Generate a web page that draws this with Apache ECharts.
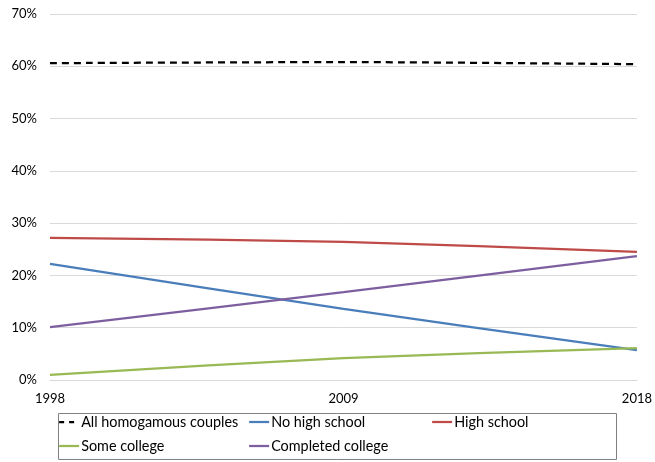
<!DOCTYPE html>
<html>
<head>
<meta charset="utf-8">
<script src="https://cdn.jsdelivr.net/npm/echarts@6/dist/echarts.min.js"></script>
<style>
  html, body { margin: 0; padding: 0; background: #fff; }
  #chart { width: 655px; height: 462px; }
</style>
</head>
<body>
<div id="chart"></div>
<script>
// Share of couples with matching education levels, by survey year
const years = ['1998', '2009', '2018'];
const allHomogamous = [60.6, 60.8, 60.4];
const noHighSchool = [22.2, 13.6, 5.7];
const highSchool = [27.2, 26.4, 24.5];
const someCollege = [1.0, 4.2, 6.1];
const completedCollege = [10.1, 16.8, 23.7];
const yTicks = [0, 10, 20, 30, 40, 50, 60, 70];

const FONT = 'Lato, "Open Sans", sans-serif';
const chart = echarts.init(document.getElementById('chart'), null, { renderer: 'canvas' });

function lineSeries(name, data, color, dashed) {
  return {
    name, type: 'line', data, smooth: 0.25, symbol: 'none',
    lineStyle: { color, width: 2.25, type: dashed ? [7, 5] : 'solid' },
    itemStyle: { color },
    z: dashed ? 3 : 2
  };
}

function legendAt(name, left, top, dashed) {
  return {
    data: [name], left, top, orient: 'horizontal',
    itemWidth: 20, itemHeight: 10, itemGap: 2, padding: 0,
    itemStyle: { opacity: 0 },
    lineStyle: { width: 2.25, type: dashed ? [5, 5] : 'solid' },
    textStyle: { fontFamily: FONT, fontSize: 14.4, color: '#000', padding: [0, 0, 0, -3] }
  };
}

chart.setOption({
  animation: false,
  grid: { left: 50, right: 15, top: 14, bottom: 82 },
  xAxis: {
    type: 'category', data: years, boundaryGap: false,
    axisLine: { lineStyle: { color: '#d9d9d9' } },
    axisTick: { show: false },
    axisLabel: { fontFamily: FONT, fontSize: 13, color: '#000', margin: 12 }
  },
  yAxis: {
    type: 'value', min: yTicks[0], max: yTicks[yTicks.length - 1], interval: 10,
    axisLine: { show: false }, axisTick: { show: false },
    splitLine: { lineStyle: { color: '#d9d9d9', width: 1 } },
    axisLabel: { fontFamily: FONT, fontSize: 13, color: '#000', margin: 13, formatter: v => v + '%' }
  },
  legend: [
    legendAt('All homogamous couples', 58, 415, true),
    legendAt('No high school', 248, 415),
    legendAt('High school', 431, 415),
    legendAt('Some college', 58, 439),
    legendAt('Completed college', 248, 439)
  ],
  graphic: [{
    type: 'rect', left: 56, top: 411,
    shape: { width: 558, height: 46 },
    style: { fill: 'none', stroke: '#808080', lineWidth: 1 }
  }],
  series: [
    lineSeries('All homogamous couples', allHomogamous, '#000000', true),
    lineSeries('No high school', noHighSchool, '#4a7ebb'),
    lineSeries('High school', highSchool, '#be4b48'),
    lineSeries('Some college', someCollege, '#98b954'),
    lineSeries('Completed college', completedCollege, '#7d5fa0')
  ]
});
</script>
</body>
</html>
